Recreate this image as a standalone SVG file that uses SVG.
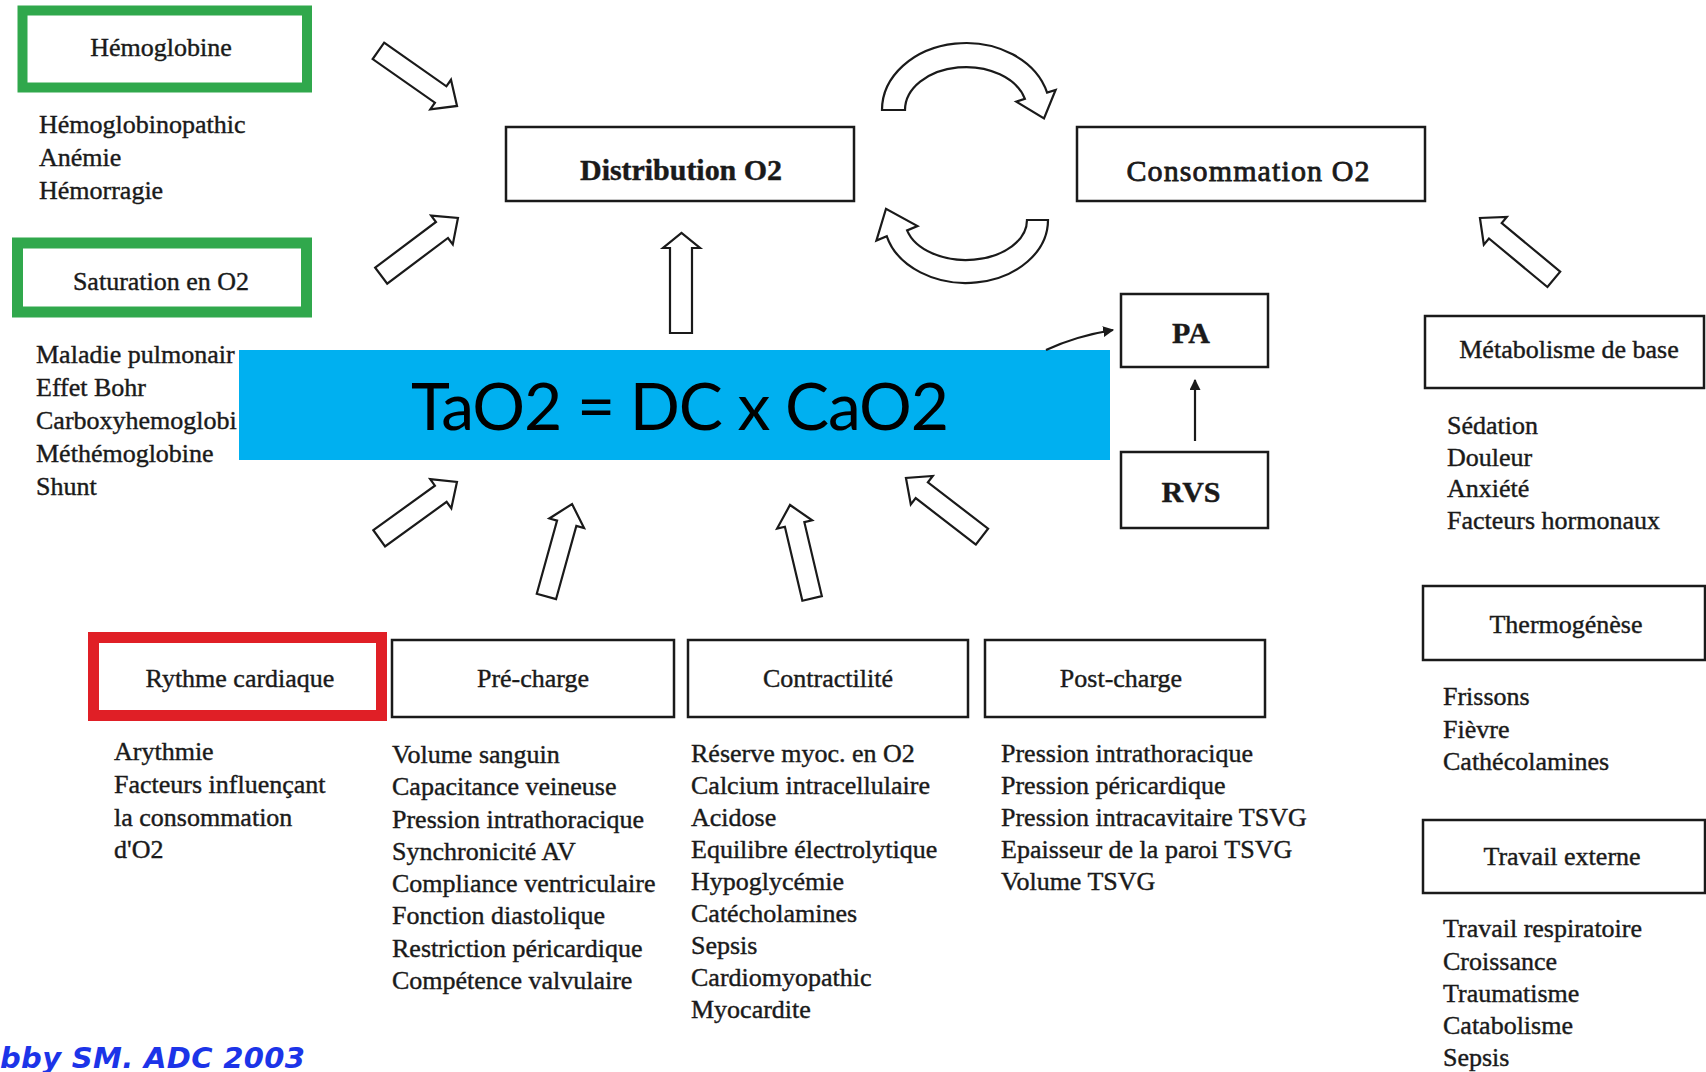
<svg xmlns="http://www.w3.org/2000/svg" xmlns:xlink="http://www.w3.org/1999/xlink" width="1706" height="1072" viewBox="0 0 1706 1072">
<style>
.box{fill:#fff;stroke:#1a1a1a;stroke-width:2.5}
.gbox{fill:#fff;stroke:#30a84c}
.rbox{fill:#fff;stroke:#e01f26;stroke-width:11}
.t{font-family:"Liberation Serif","Times New Roman",serif;font-size:26px;fill:#1a1a1a;stroke:#1a1a1a;stroke-width:0.4}
.c{text-anchor:middle}
.b{font-weight:bold}
.big{font-size:30px}
.arr{fill:#fff;stroke:#1a1a1a;stroke-width:2.2;stroke-linejoin:miter}
.ln{fill:none;stroke:#1a1a1a;stroke-width:2.2}
</style>
<defs>
<path id="ba" class="arr" d="M0,-10 H76 V-18 L96,0 L76,18 V10 H0 Z"/>
<marker id="ah" viewBox="0 0 10 10" refX="9" refY="5" markerWidth="5" markerHeight="5" orient="auto" markerUnits="strokeWidth">
<path d="M0,0 L10,5 L0,10 Z" fill="#1a1a1a"/>
</marker>
</defs>
<rect width="1706" height="1072" fill="#fff"/>

<g id="hemoglobine">
<rect class="gbox" x="22.5" y="10.5" width="284.5" height="77" stroke-width="10"/>
<text class="t c" x="161" y="56">Hémoglobine</text>
<text class="t" x="39" y="133">Hémoglobinopathic</text>
<text class="t" x="39" y="166">Anémie</text>
<text class="t" x="39" y="199">Hémorragie</text>
</g>

<g id="saturation">
<rect class="gbox" x="17.5" y="243" width="289" height="69" stroke-width="11"/>
<text class="t c" x="161" y="290">Saturation en O2</text>
<text class="t" x="36" y="363">Maladie pulmonair</text>
<text class="t" x="36" y="396">Effet Bohr</text>
<text class="t" x="36" y="429">Carboxyhemoglobi</text>
<text class="t" x="36" y="462">Méthémoglobine</text>
<text class="t" x="36" y="495">Shunt</text>
</g>

<g id="distribution">
<rect class="box" x="506" y="127" width="348" height="74"/>
<text class="t c b big" x="681" y="180" textLength="202">Distribution O2</text>
</g>

<g id="consommation">
<rect class="box" x="1077" y="127" width="348" height="74"/>
<text class="t c big" x="1248" y="181" style="stroke-width:0.8" textLength="243">Consommation O2</text>
</g>

<g id="pa">
<rect class="box" x="1121" y="294" width="147" height="73"/>
<text class="t c b big" x="1191" y="343">PA</text>
</g>

<g id="rvs">
<rect class="box" x="1121" y="452" width="147" height="76"/>
<text class="t c b big" x="1191" y="502">RVS</text>
</g>

<g id="metabolisme">
<rect class="box" x="1425" y="316" width="279" height="72"/>
<text class="t c" x="1569" y="358">Métabolisme de base</text>
<text class="t" x="1447" y="434">Sédation</text>
<text class="t" x="1447" y="466">Douleur</text>
<text class="t" x="1447" y="497">Anxiété</text>
<text class="t" x="1447" y="529">Facteurs hormonaux</text>
</g>

<g id="thermogenese">
<rect class="box" x="1423" y="586" width="282" height="74"/>
<text class="t c" x="1566" y="633">Thermogénèse</text>
<text class="t" x="1443" y="705">Frissons</text>
<text class="t" x="1443" y="738">Fièvre</text>
<text class="t" x="1443" y="770">Cathécolamines</text>
</g>

<g id="travail">
<rect class="box" x="1423" y="820" width="282" height="73"/>
<text class="t c" x="1562" y="865">Travail externe</text>
<text class="t" x="1443" y="937">Travail respiratoire</text>
<text class="t" x="1443" y="970">Croissance</text>
<text class="t" x="1443" y="1002">Traumatisme</text>
<text class="t" x="1443" y="1034">Catabolisme</text>
<text class="t" x="1443" y="1066">Sepsis</text>
</g>

<g id="rythme">
<rect class="rbox" x="93.5" y="637.5" width="288" height="78"/>
<text class="t c" x="240" y="687">Rythme cardiaque</text>
<text class="t" x="114" y="760">Arythmie</text>
<text class="t" x="114" y="793">Facteurs influençant</text>
<text class="t" x="114" y="826">la consommation</text>
<text class="t" x="114" y="858">d'O2</text>
</g>

<g id="precharge">
<rect class="box" x="392" y="640" width="282" height="77"/>
<text class="t c" x="533" y="687">Pré-charge</text>
<text class="t" x="392" y="763">Volume sanguin</text>
<text class="t" x="392" y="795">Capacitance veineuse</text>
<text class="t" x="392" y="828">Pression intrathoracique</text>
<text class="t" x="392" y="860">Synchronicité AV</text>
<text class="t" x="392" y="892">Compliance ventriculaire</text>
<text class="t" x="392" y="924">Fonction diastolique</text>
<text class="t" x="392" y="957">Restriction péricardique</text>
<text class="t" x="392" y="989">Compétence valvulaire</text>
</g>

<g id="contractilite">
<rect class="box" x="688" y="640" width="280" height="77"/>
<text class="t c" x="828" y="687">Contractilité</text>
<text class="t" x="691" y="762">Réserve myoc. en O2</text>
<text class="t" x="691" y="794">Calcium intracellulaire</text>
<text class="t" x="691" y="826">Acidose</text>
<text class="t" x="691" y="858">Equilibre électrolytique</text>
<text class="t" x="691" y="890">Hypoglycémie</text>
<text class="t" x="691" y="922">Catécholamines</text>
<text class="t" x="691" y="954">Sepsis</text>
<text class="t" x="691" y="986">Cardiomyopathic</text>
<text class="t" x="691" y="1018">Myocardite</text>
</g>

<g id="postcharge">
<rect class="box" x="985" y="640" width="280" height="77"/>
<text class="t c" x="1121" y="687">Post-charge</text>
<text class="t" x="1001" y="762">Pression intrathoracique</text>
<text class="t" x="1001" y="794">Pression péricardique</text>
<text class="t" x="1001" y="826">Pression intracavitaire TSVG</text>
<text class="t" x="1001" y="858">Epaisseur de la paroi TSVG</text>
<text class="t" x="1001" y="890">Volume TSVG</text>
</g>

<g id="formula">
<rect x="239" y="350" width="871" height="110" fill="#00b0f0"/>
<text x="680" y="430" font-family="Lato,'Open Sans',sans-serif" font-size="66" fill="#000" text-anchor="middle" textLength="538">TaO2 = DC x CaO2</text>
</g>

<g id="connectors">
<use xlink:href="#ba" href="#ba" transform="translate(378.4,50.9) rotate(35)"/>
<use xlink:href="#ba" href="#ba" transform="translate(381.2,275.6) rotate(-36.9)"/>
<use xlink:href="#ba" href="#ba" transform="translate(379.2,538.3) rotate(-35.9)"/>
<use xlink:href="#ba" href="#ba" transform="translate(546.4,596.5) rotate(-74.5)"/>
<use xlink:href="#ba" href="#ba" transform="translate(812.1,598.4) rotate(-103.3)"/>
<use xlink:href="#ba" href="#ba" transform="translate(982,536.6) rotate(-142.4)"/>
<use xlink:href="#ba" href="#ba" transform="translate(1553.8,279.3) rotate(-140.3)"/>
<path class="arr" d="M670,333 V248 H663 L681.5,233 L700,248 H692 V333 Z"/>
<path class="arr" d="M882,110 A84,67 0 0 1 1047.1,92.6 L1055.6,89.9 L1044,118.4 L1016.3,101.6 L1024.9,98.9 A61,43 0 0 0 905,110 Z"/>
<path class="arr" d="M1048,220 A82,63 0 0 1 886.8,236.3 L876.4,240.6 L886,208.8 L917.5,226 L907.1,230.4 A61,40 0 0 0 1027,220 Z"/>
<path class="ln" d="M1046,350 Q1076,336 1113,330" marker-end="url(#ah)"/>
<path class="ln" d="M1195,441 V380" marker-end="url(#ah)"/>
</g>

<text x="0" y="1068" font-family="'DejaVu Sans',sans-serif" font-size="29" font-weight="bold" font-style="italic" fill="#1c34e8" textLength="305">bby SM. ADC 2003</text>
</svg>
